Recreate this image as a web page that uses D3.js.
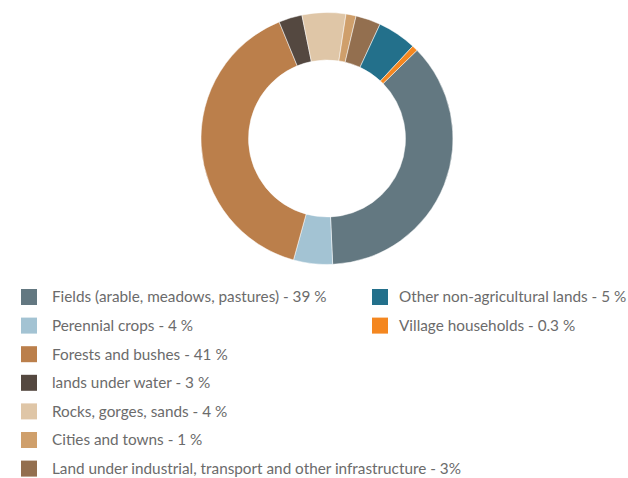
<!DOCTYPE html>
<html>
<head>
<meta charset="utf-8">
<script src="https://cdn.jsdelivr.net/npm/d3@7"></script>
<style>
  body { margin: 0; background: #fff; }
  svg { display: block; }
  .legend text { font-family: Lato, "Open Sans", sans-serif; font-size: 15.3px; fill: #6b6b6b; }
</style>
</head>
<body>
<svg id="chart" width="628" height="478"></svg>
<script>
// categories, as written in the legend
let labels = [
  "Fields (arable, meadows, pastures) - 39 %",
  "Perennial crops - 4 %",
  "Forests and bushes - 41 %",
  "lands under water - 3 %",
  "Rocks, gorges, sands - 4 %",
  "Cities and towns - 1 %",
  "Land under industrial, transport and other infrastructure - 3%",
  "Other non-agricultural lands - 5 %",
  "Village households - 0.3 %"
];

// arc shares as they appear in the ring
let shares = [36.6, 5.0, 39.5, 3.0, 5.6, 1.3, 3.2, 5.0, 0.75];

let colors = ["#637881", "#a3c3d3", "#bb7f4b", "#544840", "#dfc6a7",
              "#cf9f6b", "#936f4f", "#23708b", "#f48720"];

function load_donut(svg_name) {

  let chart = d3.select(svg_name);

  // ring geometry
  let cx = 327, cy = 138.5;
  let outer_r = 126, inner_r = 78.5;
  let start = 45.6 * Math.PI / 180;

  let pie = d3.pie()
      .sort(null)
      .value(function (d) { return d; })
      .startAngle(start)
      .endAngle(start + 2 * Math.PI);

  let arc = d3.arc()
      .innerRadius(inner_r)
      .outerRadius(outer_r);

  let ring = chart.append("g")
      .attr("transform", "translate(" + cx + "," + cy + ")");

  ring.selectAll("path")
      .data(pie(shares)).enter()
        .append("path")
          .attr("d", arc)
          .attr("fill", function (d, i) { return colors[i]; })
          .attr("stroke", "#fff")
          .attr("stroke-width", 0.5);

  // legend: 7 rows on the left, 2 on the right
  let legend = chart.append("g").attr("class", "legend");
  let row_h = 28.6;

  let items = legend.selectAll("g")
      .data(labels).enter()
        .append("g")
          .attr("transform", function (d, i) {
            let col = i < 7 ? 0 : 1;
            let row = i < 7 ? i : i - 7;
            let x = col === 0 ? 21 : 372;
            return "translate(" + x + "," + (297 + row * row_h) + ")";
          });

  items.append("rect")
      .attr("x", 0)
      .attr("y", -8)
      .attr("width", 16)
      .attr("height", 16)
      .attr("fill", function (d, i) { return colors[i]; });

  items.append("text")
      .attr("x", function (d, i) { return i < 7 ? 31 : 27; })
      .attr("y", 0)
      .attr("dy", "0.35em")
      .text(function (d) { return d; });

  return { chart: chart, pie: pie, arc: arc };
}

load_donut("#chart");
</script>
</body>
</html>
